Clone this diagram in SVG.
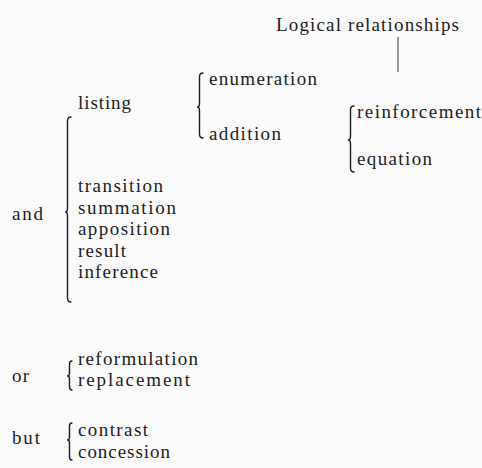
<svg xmlns="http://www.w3.org/2000/svg" width="482" height="468" viewBox="0 0 482 468">
<style>
.t text{font-size:19px;fill:#1c1c1c}
.br{fill:none;stroke:#1c1c1c;stroke-width:1.4;stroke-linecap:round;stroke-linejoin:round}
.ln{fill:none;stroke:#333;stroke-width:1}
</style>
<rect width="482" height="468" fill="#fbfbfb"/>
<g id="connectors">
<line class="ln" x1="398" y1="37" x2="398" y2="72"/>
<path class="br" d="M203 73 Q199.5 73 199.5 77 L199.5 103 Q199.5 107 197.5 107 Q199.5 107 199.5 111 L199.5 134 Q199.5 138 203 138"/>
<path class="br" d="M354 106 Q350.5 106 350.5 110 L350.5 136 Q350.5 140 348.5 140 Q350.5 140 350.5 144 L350.5 168 Q350.5 172 354 172"/>
<path class="br" d="M71 117 Q67.5 117 67.5 121 L67.5 208 Q67.5 212 65.5 212 Q67.5 212 67.5 216 L67.5 298 Q67.5 302 71 302"/>
<path class="br" d="M72 361 Q69.5 361 69.5 364 L69.5 373 Q69.5 376 67.5 376 Q69.5 376 69.5 379 L69.5 387 Q69.5 390 72 390"/>
<path class="br" d="M72 423 Q69.5 423 69.5 426 L69.5 437 Q69.5 440 67.5 440 Q69.5 440 69.5 443 L69.5 457 Q69.5 460 72 460"/>
</g>
<g class="t" font-family="Liberation Serif, Times New Roman, DejaVu Serif, serif">
<g id="logical-relationships"><text x="276" y="31" textLength="183" lengthAdjust="spacing">Logical relationships</text></g>
<g id="enumeration"><text x="209" y="85" textLength="108" lengthAdjust="spacing">enumeration</text></g>
<g id="listing"><text x="78" y="109" textLength="53" lengthAdjust="spacing">listing</text></g>
<g id="addition"><text x="209" y="140" textLength="72" lengthAdjust="spacing">addition</text></g>
<g id="reinforcement"><text x="357" y="118" textLength="124" lengthAdjust="spacing">reinforcement</text></g>
<g id="equation"><text x="357" y="165" textLength="75" lengthAdjust="spacing">equation</text></g>
<g id="and"><text x="12" y="220" textLength="31" lengthAdjust="spacing">and</text></g>
<g id="transition"><text x="78" y="192" textLength="85" lengthAdjust="spacing">transition</text></g>
<g id="summation"><text x="78" y="214" textLength="98" lengthAdjust="spacing">summation</text></g>
<g id="apposition"><text x="78" y="235" textLength="92" lengthAdjust="spacing">apposition</text></g>
<g id="result"><text x="78" y="257" textLength="48" lengthAdjust="spacing">result</text></g>
<g id="inference"><text x="78" y="278" textLength="80" lengthAdjust="spacing">inference</text></g>
<g id="or"><text x="12" y="382" textLength="17" lengthAdjust="spacing">or</text></g>
<g id="reformulation"><text x="78" y="365" textLength="120" lengthAdjust="spacing">reformulation</text></g>
<g id="replacement"><text x="78" y="386" textLength="112" lengthAdjust="spacing">replacement</text></g>
<g id="but"><text x="12" y="444" textLength="28" lengthAdjust="spacing">but</text></g>
<g id="contrast"><text x="78" y="436" textLength="70" lengthAdjust="spacing">contrast</text></g>
<g id="concession"><text x="78" y="458" textLength="92" lengthAdjust="spacing">concession</text></g>
</g>
</svg>
